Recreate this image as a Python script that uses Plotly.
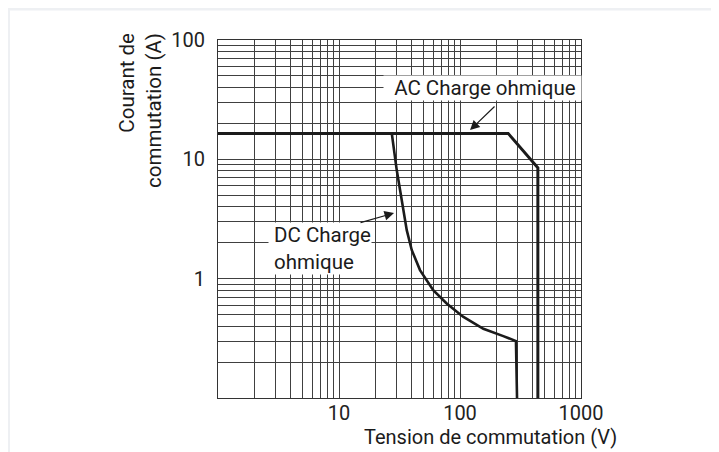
import plotly.graph_objects as go

# Data (log-log)
ac_voltage = [1, 250, 440, 440]
ac_current = [16.5, 16.5, 8.5, 0.1]

dc_voltage = [1, 27.3, 30.0, 33.0, 36.3, 39.9, 46.7, 60.1, 77.6, 106, 156, 228, 290, 296]
dc_current = [16.5, 16.5, 8.13, 4.56, 2.55, 1.74, 1.18, 0.80, 0.62, 0.48, 0.38, 0.33, 0.30, 0.1]

x_tick_vals = [10, 100, 1000]
x_tick_text = ["10", "100", "1000"]
y_tick_vals = [1, 10, 100]
y_tick_text = ["1", "10", "100"]

x_minor = [m * 10 ** d for d in range(0, 3) for m in range(2, 10)]
y_minor = [m * 10 ** d for d in range(-1, 2) for m in range(2, 10)]

TXT = "Roboto, Liberation Sans, Arial, sans-serif"
INK = "#1b1b1b"
GRID = "#404040"

fig = go.Figure()
fig.add_trace(go.Scatter(x=ac_voltage, y=ac_current, mode="lines",
                         line=dict(color=INK, width=3), showlegend=False, hoverinfo="skip"))
fig.add_trace(go.Scatter(x=dc_voltage, y=dc_current, mode="lines",
                         line=dict(color=INK, width=2.6), showlegend=False, hoverinfo="skip"))

fig.update_layout(
    width=719, height=452,
    margin=dict(l=210, r=146, t=32, b=62, autoexpand=False),
    paper_bgcolor="white", plot_bgcolor="white",
    font=dict(family=TXT, color=INK),
)
fig.update_xaxes(
    type="log", range=[0, 3], automargin=False,
    tickmode="array", tickvals=x_tick_vals, ticktext=x_tick_text,
    tickfont=dict(family=TXT, size=20, color="#222"),
    showgrid=True, gridcolor=GRID, gridwidth=1,
    minor=dict(tickmode="array", tickvals=x_minor, showgrid=True, gridcolor=GRID, gridwidth=1, ticks=""),
    showline=True, linecolor="#333", linewidth=1.2, mirror=True,
    ticks="", ticklen=0, zeroline=False, ticklabelstandoff=-3,
)
fig.update_yaxes(
    type="log", range=[-1, 2], automargin=False,
    tickmode="array", tickvals=y_tick_vals, ticktext=y_tick_text,
    tickfont=dict(family=TXT, size=20, color="#222"),
    showgrid=True, gridcolor=GRID, gridwidth=1,
    minor=dict(tickmode="array", tickvals=y_minor, showgrid=True, gridcolor=GRID, gridwidth=1, ticks=""),
    showline=True, linecolor="#333", linewidth=1.2, mirror=True,
    ticks="", ticklen=0, zeroline=False, ticklabelstandoff=8,
)

# faint outer frame at the figure edge
fig.add_shape(type="rect", xref="paper", yref="paper",
              x0=-0.5772, x1=1.5, y0=-0.3, y1=1.0866,
              line=dict(color="#eef0f3", width=3), fillcolor="rgba(0,0,0,0)", layer="below")

# Axis titles
fig.add_annotation(xref="paper", yref="paper", x=0.752, y=-0.109, xanchor="center", yanchor="middle",
                   text="Tension de commutation (V)", showarrow=False,
                   font=dict(family=TXT, size=20, color=INK))
fig.add_annotation(xref="paper", yref="paper", x=-0.212, y=0.802, xanchor="center", yanchor="middle",
                   text="Courant de<br>commutation (A)", showarrow=False, textangle=-90,
                   align="right", font=dict(family=TXT, size=20.5, color=INK))

# Labels with white boxes
fig.add_annotation(x=2.19, y=1.598, xref="x", yref="y", xanchor="center", yanchor="middle",
                   text="\u00a0\u00a0AC Charge ohmique\u00a0", showarrow=False, bgcolor="white",
                   borderpad=0, font=dict(family=TXT, size=20.5, color=INK))
fig.add_annotation(x=0.843, y=0.257, xref="x", yref="y", xanchor="center", yanchor="middle",
                   text="\u00a0DC Charge<br>\u00a0ohmique", showarrow=False, bgcolor="white", align="left",
                   borderpad=0, font=dict(family=TXT, size=20.5, color=INK))

# Arrows
fig.add_annotation(x=2.083, y=1.245, xref="x", yref="y", text="", showarrow=True,
                   ax=26, ay=-25, arrowhead=2, arrowsize=1.6, arrowwidth=1.2, arrowcolor=INK)
fig.add_annotation(x=1.455, y=0.55, xref="x", yref="y", text="", showarrow=True,
                   ax=-35, ay=10, arrowhead=2, arrowsize=1.6, arrowwidth=1.2, arrowcolor=INK)

fig.write_html("out.html")
